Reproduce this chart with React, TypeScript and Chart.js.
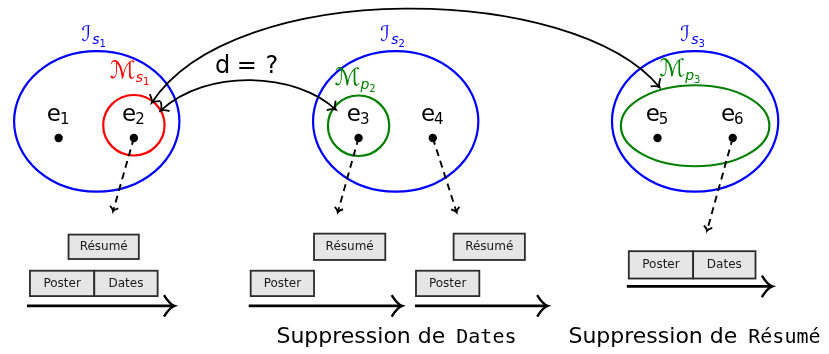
import React, { useEffect, useRef } from 'react';
import { Chart, registerables } from 'chart.js';

Chart.register(...registerables);

const W = 829;
const H = 354;
const SANS = '"DejaVu Sans", sans-serif';
const MONO = '"DejaVu Sans Mono", monospace';

// elements e1..e6 (dots)
const elementIds = ['1', '2', '3', '4', '5', '6'];
const elementX = [55, 131, 358, 433, 660, 736];
const elementY = [137, 137, 137, 137, 137, 137];

// sets I_s1..I_s3 (blue ellipses)
const setIds = ['1', '2', '3'];
const setCx = [93.5, 395.5, 698];
const setCy = [120, 120, 120];
const setRx = [83.5, 83.5, 84];
const setRy = [72, 72, 72];
const setLabelX = [78, 380, 683];
const setLabelY = [38, 38, 38];

// matched subsets M
const subMain = ['s', 'p', 'p'];
const subIds = ['1', '2', '3'];
const subColors = ['#ff0000', '#008000', '#008000'];
const subCx = [131, 358, 698];
const subCy = [124, 124.5, 124.5];
const subRx = [31, 31, 75];
const subRy = [31, 31, 41.5];
const subLabelX = [107, 334, 662];
const subLabelY = [76, 83, 74];

// curved double arrows (cubic)
const linkFromX = [149, 158];
const linkFromY = [101, 109];
const linkC1X = [232, 205];
const linkC1Y = [-28, 65];
const linkC2X = [575, 295];
const linkC2Y = [-22, 70];
const linkToX = [662, 335];
const linkToY = [85, 108];

// dashed traces from elements
const traceFrom = [1, 2, 3, 5];
const traceToX = [110, 337, 457, 710];
const traceToY = [212, 213, 213, 232];

// timeline boxes
const boxLabels = ['Résumé', 'Poster', 'Dates', 'Poster', 'Résumé', 'Poster', 'Résumé', 'Poster', 'Dates'];
const boxX0 = [65, 26, 91, 249, 313, 416, 454, 631, 696];
const boxX1 = [136, 91, 155, 313, 385, 480, 526, 696, 759];
const boxY0 = [236, 273, 273, 273, 235, 273, 235, 253, 253];
const boxY1 = [261, 299, 299, 299, 262, 299, 262, 281, 281];

// timeline axes
const axisX0 = [23, 247, 415, 629];
const axisX1 = [172, 402, 549, 776];
const axisY = [309, 309, 309, 289];

// captions
const captionPrefix = ['Suppression de', 'Suppression de'];
const captionField = ['Dates', 'Résumé'];
const captionX = [275, 570];
const captionY = [347, 347];

function arrowHead(ctx: CanvasRenderingContext2D, x: number, y: number, ang: number, len: number, spread: number) {
  ctx.beginPath();
  ctx.moveTo(x - len * Math.cos(ang - spread), y - len * Math.sin(ang - spread));
  ctx.quadraticCurveTo(x - len * 0.35 * Math.cos(ang - spread * 0.4), y - len * 0.35 * Math.sin(ang - spread * 0.4), x, y);
  ctx.quadraticCurveTo(x - len * 0.35 * Math.cos(ang + spread * 0.4), y - len * 0.35 * Math.sin(ang + spread * 0.4), x - len * Math.cos(ang + spread), y - len * Math.sin(ang + spread));
  ctx.stroke();
}

const diagramPlugin = {
  id: 'diagram',
  beforeDatasetsDraw(chart: any) {
    const ctx: CanvasRenderingContext2D = chart.ctx;
    const xs = chart.scales.x;
    const ys = chart.scales.y;
    const px = (v: number) => xs.getPixelForValue(v);
    const py = (v: number) => ys.getPixelForValue(v);
    ctx.save();
    ctx.lineWidth = 2.2;
    ctx.strokeStyle = '#0000ff';
    setIds.forEach((_, i) => {
      ctx.beginPath();
      ctx.ellipse(px(setCx[i]), py(setCy[i]), px(setCx[i] + setRx[i]) - px(setCx[i]), Math.abs(py(setCy[i] + setRy[i]) - py(setCy[i])), 0, 0, Math.PI * 2);
      ctx.stroke();
    });
    subIds.forEach((_, i) => {
      ctx.strokeStyle = subColors[i];
      ctx.beginPath();
      ctx.ellipse(px(subCx[i]), py(subCy[i]), px(subCx[i] + subRx[i]) - px(subCx[i]), Math.abs(py(subCy[i] + subRy[i]) - py(subCy[i])), 0, 0, Math.PI * 2);
      ctx.stroke();
    });
    // dashed traces
    ctx.strokeStyle = '#000';
    ctx.lineWidth = 1.9;
    traceFrom.forEach((ei, i) => {
      const x0 = px(elementX[ei]), y0 = py(elementY[ei]);
      const x1 = px(traceToX[i]), y1 = py(traceToY[i]);
      ctx.setLineDash([7, 5]);
      ctx.beginPath();
      ctx.moveTo(x0, y0);
      ctx.lineTo(x1, y1);
      ctx.stroke();
      ctx.setLineDash([]);
      arrowHead(ctx, x1, y1, Math.atan2(y1 - y0, x1 - x0), 6, 0.8);
    });
    ctx.restore();
  },
  afterDatasetsDraw(chart: any) {
    const ctx: CanvasRenderingContext2D = chart.ctx;
    const xs = chart.scales.x;
    const ys = chart.scales.y;
    const px = (v: number) => xs.getPixelForValue(v);
    const py = (v: number) => ys.getPixelForValue(v);
    ctx.save();
    ctx.textBaseline = 'alphabetic';
    ctx.textAlign = 'left';

    // element labels
    ctx.fillStyle = '#000';
    elementIds.forEach((id, i) => {
      ctx.font = `23px ${SANS}`;
      const we = ctx.measureText('e').width;
      ctx.font = `15px ${SANS}`;
      const wd = ctx.measureText(id).width;
      const left = px(elementX[i]) - (we + wd) / 2;
      const base = py(elementY[i]) - 17;
      ctx.font = `23px ${SANS}`;
      ctx.fillText('e', left, base);
      ctx.font = `15px ${SANS}`;
      ctx.fillText(id, left + we - 1, base + 3);
    });

    // set labels
    ctx.fillStyle = '#0000ff';
    setIds.forEach((id, i) => {
      const x = px(setLabelX[i]);
      const y = py(setLabelY[i]);
      ctx.font = `21px ${SANS}`;
      ctx.fillText('ℐ', x, y);
      const w = ctx.measureText('ℐ').width;
      ctx.font = `italic 14px ${SANS}`;
      ctx.fillText('s', x + w + 1, y + 3);
      const ws = ctx.measureText('s').width;
      ctx.font = `10px ${SANS}`;
      ctx.fillText(id, x + w + 1 + ws, y + 6);
    });

    // subset labels
    subIds.forEach((id, i) => {
      ctx.fillStyle = subColors[i];
      const x = px(subLabelX[i]);
      const y = py(subLabelY[i]);
      ctx.font = `24px ${SANS}`;
      ctx.fillText('ℳ', x, y);
      const w = ctx.measureText('ℳ').width;
      ctx.font = `italic 14px ${SANS}`;
      ctx.fillText(subMain[i], x + w, y + 4);
      const ws = ctx.measureText(subMain[i]).width;
      ctx.font = `10px ${SANS}`;
      ctx.fillText(id, x + w + ws, y + 7);
    });

    // curved links (double-headed)
    ctx.strokeStyle = '#000';
    ctx.lineWidth = 1.8;
    linkFromX.forEach((_, i) => {
      const x0 = px(linkFromX[i]), y0 = py(linkFromY[i]);
      const c1x = px(linkC1X[i]), c1y = py(linkC1Y[i]);
      const c2x = px(linkC2X[i]), c2y = py(linkC2Y[i]);
      const x1 = px(linkToX[i]), y1 = py(linkToY[i]);
      ctx.beginPath();
      ctx.moveTo(x0, y0);
      ctx.bezierCurveTo(c1x, c1y, c2x, c2y, x1, y1);
      ctx.stroke();
      arrowHead(ctx, x0, y0, Math.atan2(y0 - c1y, x0 - c1x), 9, 0.8);
      arrowHead(ctx, x1, y1, Math.atan2(y1 - c2y, x1 - c2x), 9, 0.8);
    });

    // d = ?
    ctx.fillStyle = '#000';
    ctx.font = `24px ${SANS}`;
    ctx.fillText('d', px(213), py(70));
    ctx.fillText('=', px(235), py(70));
    ctx.fillText('?', px(264), py(70));

    // boxes
    boxLabels.forEach((lab, i) => {
      const x0 = px(boxX0[i]), x1 = px(boxX1[i]);
      const y0 = py(boxY0[i]), y1 = py(boxY1[i]);
      ctx.fillStyle = '#e6e6e6';
      ctx.fillRect(x0, y0, x1 - x0, y1 - y0);
      ctx.strokeStyle = '#2b2b2b';
      ctx.lineWidth = 1.8;
      ctx.strokeRect(x0, y0, x1 - x0, y1 - y0);
      ctx.fillStyle = '#1a1a1a';
      ctx.font = `12px ${SANS}`;
      ctx.textAlign = 'center';
      ctx.textBaseline = 'middle';
      ctx.fillText(lab, (x0 + x1) / 2, (y0 + y1) / 2 + 0.5);
      ctx.textAlign = 'left';
      ctx.textBaseline = 'alphabetic';
    });

    // timeline axes
    ctx.strokeStyle = '#000';
    ctx.lineWidth = 2.8;
    axisX0.forEach((_, i) => {
      const x0 = px(axisX0[i]), x1 = px(axisX1[i]), y = py(axisY[i]);
      ctx.beginPath();
      ctx.moveTo(x0, y);
      ctx.lineTo(x1 - 1, y);
      ctx.stroke();
      ctx.lineWidth = 2.4;
      arrowHead(ctx, x1, y, 0, 15, 0.8);
      ctx.lineWidth = 2.8;
    });

    // captions
    ctx.fillStyle = '#000';
    captionPrefix.forEach((pre, i) => {
      const x = px(captionX[i]);
      const y = py(captionY[i]);
      ctx.font = `22px ${SANS}`;
      ctx.fillText(pre, x, y);
      const w = ctx.measureText(pre + ' ').width;
      ctx.font = `20px ${MONO}`;
      ctx.fillText(captionField[i], x + w + 4, y);
    });
    ctx.restore();
  },
};

export default function App() {
  const ref = useRef<HTMLCanvasElement | null>(null);
  useEffect(() => {
    if (!ref.current) return;
    const chart = new Chart(ref.current, {
      type: 'scatter',
      data: {
        datasets: [
          {
            label: 'elements',
            data: elementX.map((x, i) => ({ x, y: elementY[i] })),
            pointRadius: 4.2,
            pointHoverRadius: 4.2,
            pointBackgroundColor: '#000',
            pointBorderWidth: 0,
            showLine: false,
          },
        ],
      },
      options: {
        animation: false,
        responsive: false,
        maintainAspectRatio: false,
        events: [],
        layout: { padding: 0 },
        plugins: { legend: { display: false }, tooltip: { enabled: false }, title: { display: false } },
        scales: {
          x: { type: 'linear', min: 0, max: W, display: false },
          y: { type: 'linear', min: 0, max: H, reverse: true, display: false },
        },
      },
      plugins: [diagramPlugin],
    } as any);
    return () => chart.destroy();
  }, []);
  return (
    <div style={{ position: 'fixed', left: 0, top: 0, width: W, height: H, background: '#fff' }}>
      <canvas ref={ref} width={W} height={H} style={{ display: 'block', width: W, height: H }} />
    </div>
  );
}
